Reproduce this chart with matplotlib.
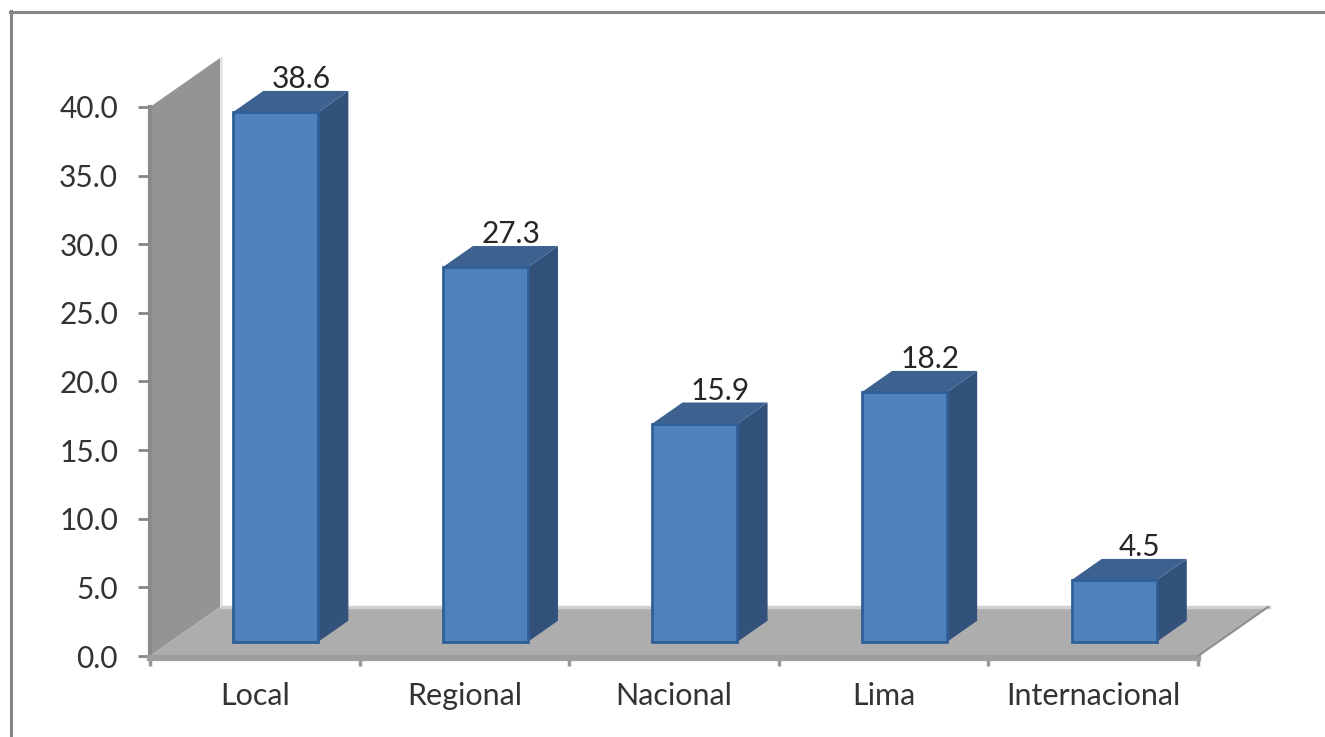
import matplotlib
matplotlib.use("Agg")
import matplotlib.pyplot as plt
from matplotlib.patches import Polygon
from matplotlib.lines import Line2D

categories = ["Local", "Regional", "Nacional", "Lima", "Internacional"]
values = [38.6, 27.3, 15.9, 18.2, 4.5]
y_ticks = [0, 5, 10, 15, 20, 25, 30, 35, 40]

W, H = 1325, 737
LEFT, RIGHT, BOTTOM, TOP = 150, 1198, 656, 107

plt.rcParams["font.family"] = ["Lato", "DejaVu Sans"]
fig = plt.figure(figsize=(W / 100, H / 100), dpi=100, facecolor="white")
ax = fig.add_axes([LEFT / W, 1 - BOTTOM / H, (RIGHT - LEFT) / W, (BOTTOM - TOP) / H])
ax.set_xlim(0, len(categories))
ax.set_ylim(0, 40)
ax.set_xticks(range(len(categories) + 1))
ax.set_xticklabels([])
ax.set_yticks(y_ticks)
ax.set_yticklabels([f"{v:.1f}" for v in y_ticks], fontsize=21.5, color="#333333")
ax.tick_params(axis="y", length=9, width=2, color="#868686", pad=14)
ax.tick_params(axis="x", length=7, width=2.5, color="#989898")
ax.patch.set_visible(False)
for spine in ax.spines.values():
    spine.set_visible(False)

# Oblique projection: depth 1 is the back wall, 0 the front of the floor.
unit_x = len(categories) / (RIGHT - LEFT)
unit_y = 40 / (BOTTOM - TOP)
DEPTH_X = 70 * unit_x
DEPTH_Y = 49 * unit_y


def proj(x, y, depth=0.0):
    return (x + depth * DEPTH_X, y + depth * DEPTH_Y)


def face(points, color, edge=None, lw=0.0, z=1):
    ax.add_patch(Polygon(points, closed=True, facecolor=color, edgecolor=edge or color,
                         linewidth=lw, clip_on=False, zorder=z, joinstyle="miter"))


n = len(categories)

# Back wall, with a lighter rim on its far edge
face([proj(0, 40), proj(0, 40, 1), proj(0, 0, 1), proj(0, 0)], "#949494", z=1)
ax.add_line(Line2D(*zip(proj(0, 40, 1.01), proj(0, 0, 1.01)), color="#e6e6e6", lw=2,
                   clip_on=False, zorder=1))
ax.add_line(Line2D([0, 0], [0, 40], color="#8a8a8a", lw=3, clip_on=False, zorder=2))

# Floor, with its front lip and far highlight
face([proj(0, 0), proj(0, 0, 1), proj(n, 0, 1), proj(n, 0)], "#adadad", z=2)
ax.add_line(Line2D(*zip(proj(0, 0, 1.01), proj(n, 0, 1.01)), color="#cfcfcf", lw=2.5,
                   clip_on=False, zorder=2))
ax.add_line(Line2D([0, n], [-0.15, -0.15], color="#9e9e9e", lw=4.5, clip_on=False, zorder=3))
ax.add_line(Line2D(*zip(proj(n, 0), proj(n, 0, 1)), color="#8e8e8e", lw=1.5,
                   clip_on=False, zorder=3))

# Columns: left/right edges in category units, front and back in depth units
BAR_LEFT = 0.30
BAR_RIGHT = 0.706
D_FRONT = 0.29
D_BACK = 0.72

for i, (name, v) in enumerate(zip(categories, values)):
    x0, x1 = i + BAR_LEFT, i + BAR_RIGHT
    face([proj(x1, 0, D_FRONT), proj(x1, 0, D_BACK), proj(x1, v, D_BACK), proj(x1, v, D_FRONT)],
         "#32527c", z=4)
    face([proj(x0, v, D_FRONT), proj(x0, v, D_BACK), proj(x1, v, D_BACK), proj(x1, v, D_FRONT)],
         "#3d6290", z=4)
    face([proj(x0, 0, D_FRONT), proj(x1, 0, D_FRONT), proj(x1, v, D_FRONT), proj(x0, v, D_FRONT)],
         "#4f81bd", edge="#2f5f96", lw=2.0, z=5)
    ax.annotate(f"{v:.1f}", xy=proj((x0 + x1) / 2, v, D_BACK), xytext=(-3.5, 2),
                textcoords="offset points", ha="center", va="baseline",
                fontsize=21.5, color="#262626", zorder=6, annotation_clip=False)
    ax.annotate(name, xy=(i + 0.5, 0), xytext=(0, -29), textcoords="offset points",
                ha="center", va="center", fontsize=22, color="#333333",
                annotation_clip=False)

# Outer chart frame, open at the right and bottom
fig.add_artist(Line2D([11 / W, 11 / W], [0, 1 - 11 / H], color="#858585", lw=2.2))
fig.add_artist(Line2D([10 / W, 1], [1 - 11.5 / H, 1 - 11.5 / H], color="#858585", lw=2.2))

fig.savefig("out.png", dpi=100, facecolor="white")
